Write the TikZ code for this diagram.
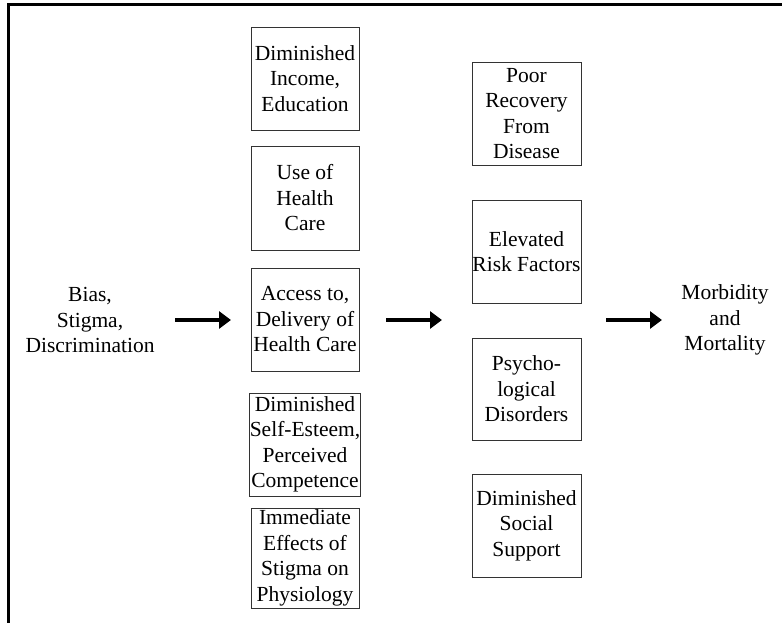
\documentclass[tikz,border=0pt]{standalone}
\usepackage{fontspec}
\setmainfont{Liberation Serif}
\usetikzlibrary{arrows.meta}
\begin{document}
\begin{tikzpicture}[x=1pt,y=-1pt,
  box/.style={draw=black!80, line width=0.9pt, align=center, inner sep=0pt,
    font=\fontsize{21.5}{25.5}\selectfont},
  lbox/.style={box, minimum width=108pt},
  rbox/.style={box, minimum width=109pt},
  plain/.style={align=center, inner sep=0pt, font=\fontsize{21.5}{25.5}\selectfont},
  bigarrow/.style={line width=4.5pt, -{Triangle[length=12pt,width=17pt]}},
  frame/.style={line width=3pt}]
\useasboundingbox (0,0) rectangle (782,623);
% frame
\coordinate (ftr) at (782,5);
\coordinate (ftl) at (8,5);
\coordinate (fbl) at (8,623);
\draw[frame] (ftr) -- (ftl) -- (fbl);
% left column
\node[lbox, minimum height=103pt] (b1) at (305,78.5) {Diminished\\Income,\\Education};
\node[lbox, minimum height=104pt] (b2) at (305,198) {Use of\\Health\\Care};
\node[lbox, minimum height=103pt] (b3) at (305,319.5) {Access to,\\Delivery of\\Health Care};
\node[lbox, minimum height=103pt] (b4) at (305,444.5) {Diminished\\Self-Esteem,\\Perceived\\Competence};
\node[lbox, minimum height=100pt] (b5) at (305,558) {Immediate\\Effects of\\Stigma on\\Physiology};
% right column
\node[rbox, minimum height=103pt] (r1) at (526.5,113.5) {Poor\\Recovery\\From\\Disease};
\node[rbox, minimum height=103pt] (r2) at (526.5,251.5) {Elevated\\Risk Factors};
\node[rbox, minimum height=102pt] (r3) at (526.5,389) {Psycho-\\logical\\Disorders};
\node[rbox, minimum height=103pt] (r4) at (526.5,525.5) {Diminished\\Social\\Support};
% side texts
\node[plain] (bias) at (90,320) {Bias,\\Stigma,\\Discrimination};
\node[plain] (morb) at (725,320) {Morbidity\\and\\Mortality};
% arrows
\coordinate (a1s) at (175,320); \coordinate (a1e) at (231,320);
\coordinate (a2s) at (386,320); \coordinate (a2e) at (442,320);
\coordinate (a3s) at (606,320); \coordinate (a3e) at (662,320);
\draw[bigarrow] (a1s) -- (a1e);
\draw[bigarrow] (a2s) -- (a2e);
\draw[bigarrow] (a3s) -- (a3e);
\end{tikzpicture}
\end{document}
